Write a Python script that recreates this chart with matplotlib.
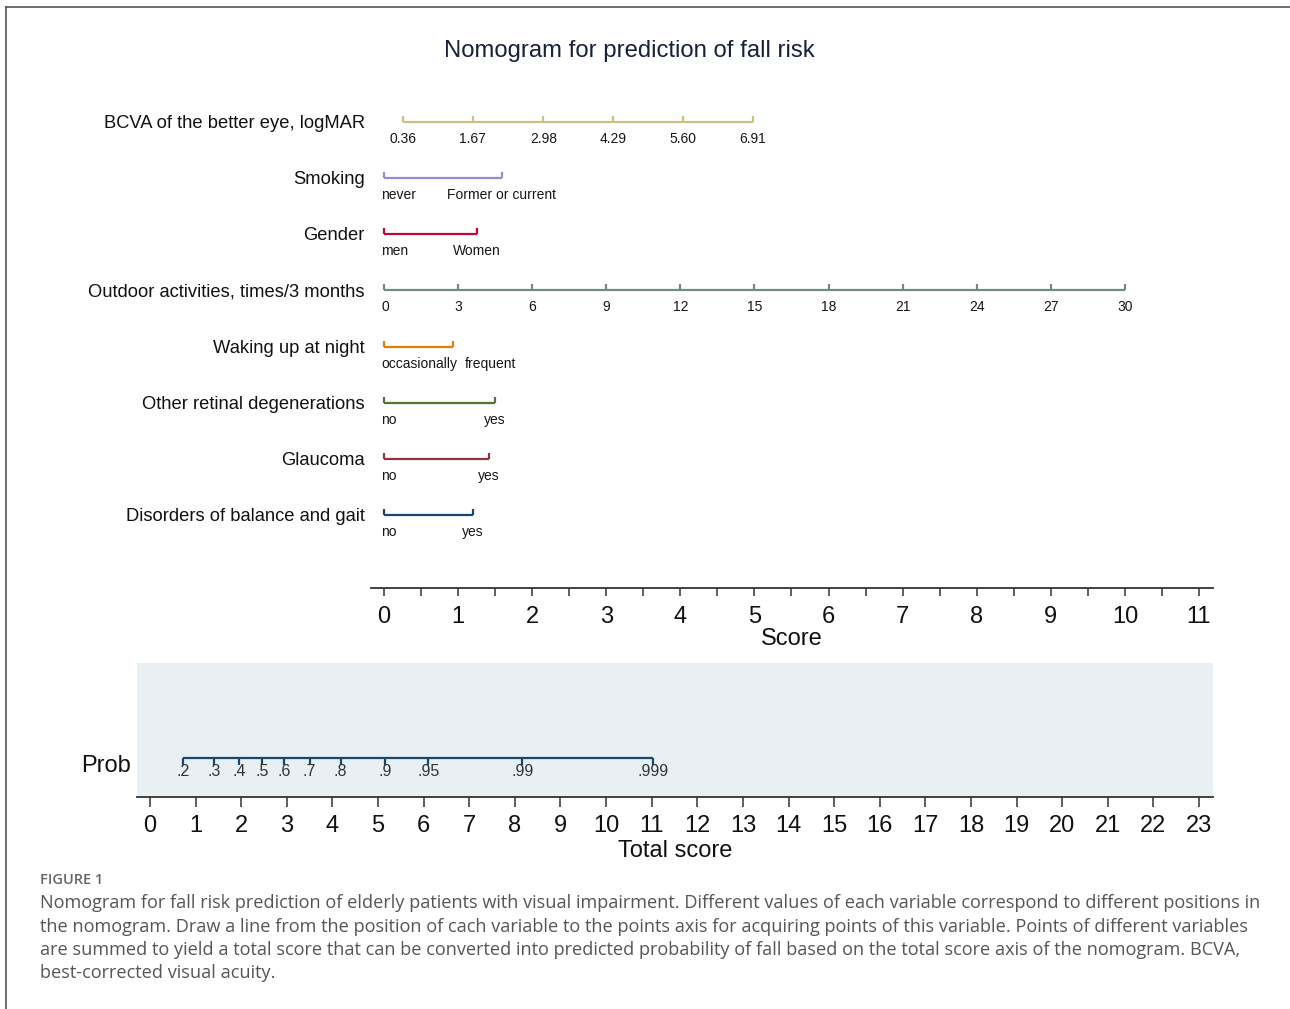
import matplotlib
matplotlib.use("Agg")
import matplotlib.pyplot as plt
from matplotlib.lines import Line2D
from matplotlib.ticker import FixedLocator, MultipleLocator

# ---------------------------------------------------------------- data
var_names = [
    "BCVA of the better eye, logMAR",
    "Smoking",
    "Gender",
    "Outdoor activities, times/3 months",
    "Waking up at night",
    "Other retinal degenerations",
    "Glaucoma",
    "Disorders of balance and gait",
]

bcva_labels = ["0.36", "1.67", "2.98", "4.29", "5.60", "6.91"]
bcva_points = [0.26, 1.20, 2.15, 3.09, 4.04, 4.98]

smoking_labels = ["never", "Former or current"]
smoking_points = [0.0, 1.59]

gender_labels = ["men", "Women"]
gender_points = [0.0, 1.25]

outdoor_labels = ["0", "3", "6", "9", "12", "15", "18", "21", "24", "27", "30"]
outdoor_points = [0, 1, 2, 3, 4, 5, 6, 7, 8, 9, 10]

waking_labels = ["occasionally", "frequent"]
waking_points = [0.0, 0.93]

retinal_labels = ["no", "yes"]
retinal_points = [0.0, 1.50]

glaucoma_labels = ["no", "yes"]
glaucoma_points = [0.0, 1.42]

balance_labels = ["no", "yes"]
balance_points = [0.0, 1.20]

var_colors = ["#cac27e", "#938dd2", "#c10534", "#6e8e84",
              "#e37e00", "#55752f", "#90353b", "#1a476f"]

score_ticks = list(range(0, 12))
total_ticks = list(range(0, 24))

prob_labels = [".2", ".3", ".4", ".5", ".6", ".7", ".8", ".9", ".95", ".99", ".999"]
prob_points = [0.72, 1.40, 1.95, 2.46, 2.94, 3.50, 4.18, 5.15, 6.10, 8.16, 11.03]

caption_head = "FIGURE 1"
caption_lines = [
    "Nomogram for fall risk prediction of elderly patients with visual impairment. Different values of each variable correspond to different positions in",
    "the nomogram. Draw a line from the position of cach variable to the points axis for acquiring points of this variable. Points of different variables",
    "are summed to yield a total score that can be converted into predicted probability of fall based on the total score axis of the nomogram. BCVA,",
    "best-corrected visual acuity.",
]

rows = [
    (bcva_labels, bcva_points),
    (smoking_labels, smoking_points),
    (gender_labels, gender_points),
    (outdoor_labels, outdoor_points),
    (waking_labels, waking_points),
    (retinal_labels, retinal_points),
    (glaucoma_labels, glaucoma_points),
    (balance_labels, balance_points),
]

# ---------------------------------------------------------------- layout
W, H, DPI = 1290, 1009, 100
PT = 72.0 / DPI  # points per pixel


def fx(px):
    return px / W


def fy(py):
    return 1.0 - py / H


plt.rcParams["font.family"] = ["Liberation Sans", "DejaVu Sans"]
fig = plt.figure(figsize=(W / DPI, H / DPI), dpi=DPI)
renderer = fig.canvas.get_renderer()

# frame around the figure panel
frame_kw = dict(color="#555555", lw=1.2, transform=fig.transFigure)
fig.add_artist(Line2D([fx(6), fx(6)], [fy(7), 0.0], **frame_kw))
fig.add_artist(Line2D([fx(6), 1.0], [fy(7), fy(7)], **frame_kw))

fig.text(fx(629.5), fy(51), "Nomogram for prediction of fall risk",
         ha="center", va="center", fontsize=17.2, color="#18203a")

# --------------------------------------------------------- variable rows
UNIT = 74.09          # pixels per score point
ROW = 56.14           # pixels between rows
ax = fig.add_axes([fx(371), fy(588), fx(1213) - fx(371), (588 - 100) / H])
ax.set_xlim((371 - 384) / UNIT, (1213 - 384) / UNIT)
ax.set_ylim((588 - 122) / ROW, (100 - 122) / ROW)
ax.set_facecolor("none")
for side in ("top", "left", "right"):
    ax.spines[side].set_visible(False)
ax.spines["bottom"].set_color("#333333")
ax.spines["bottom"].set_linewidth(1.3)
ax.xaxis.set_major_locator(FixedLocator(score_ticks))
ax.xaxis.set_minor_locator(MultipleLocator(0.5))
ax.tick_params(axis="x", which="both", direction="out", length=8 * PT,
               width=1.1, color="#333333", labelsize=17, pad=7,
               labelcolor="#111111")
ax.set_yticks([])
ax.set_xlabel("Score", fontsize=17, color="#111111", labelpad=0)

LW = 1.6
TICK_UP = 6 / ROW
LABEL_DROP = 17 * PT
NAME_GAP = 19 * PT
LEFT_CLAMP = -3 / UNIT
GAP = 8

left_px = ax.transData.transform((LEFT_CLAMP, 0))[0]
for i, ((labels, points), color, name) in enumerate(zip(rows, var_colors, var_names)):
    ax.plot([points[0], points[-1]], [i, i], color=color, lw=LW,
            solid_capstyle="butt")
    ax.vlines(points, i - TICK_UP, i, color=color, lw=LW)
    ax.annotate(name, xy=(0, i), xytext=(-NAME_GAP, -1.5 * PT),
                textcoords="offset points", ha="right", va="center",
                fontsize=13.25, color="#111111")
    prev_right = None
    for lab, p in zip(labels, points):
        t = ax.annotate(lab, xy=(p, i), xytext=(0, -LABEL_DROP),
                        textcoords="offset points", ha="center", va="center",
                        fontsize=10, color="#161616")
        bb = t.get_window_extent(renderer)
        shift = 0.0
        if bb.x0 < left_px:
            shift = left_px - bb.x0
        if prev_right is not None and bb.x0 + shift < prev_right + GAP:
            shift = prev_right + GAP - bb.x0
        if shift:
            t.xyann = (shift * PT, -LABEL_DROP)
        prev_right = bb.x1 + shift

# ---------------------------------------------------- probability panel
TUNIT = (1199 - 150) / 23.0
axb = fig.add_axes([fx(137), fy(797), fx(1213) - fx(137), (797 - 663) / H])
axb.set_xlim((137 - 150) / TUNIT, (1213 - 150) / TUNIT)
axb.set_ylim(0, 1)
axb.set_facecolor("#e8f0f3")
for side in ("top", "left", "right"):
    axb.spines[side].set_visible(False)
axb.spines["bottom"].set_color("#333333")
axb.spines["bottom"].set_linewidth(1.3)
axb.xaxis.set_major_locator(FixedLocator(total_ticks))
axb.tick_params(axis="x", direction="out", length=10 * PT, width=1.1,
                color="#333333", labelsize=17, pad=6, labelcolor="#111111")
axb.set_yticks([])
axb.set_xlabel("Total score", fontsize=17, color="#111111", labelpad=2)

PROB_Y = (797 - 758) / 134
PROB_TICK = 7 / 134
axb.plot([prob_points[0], prob_points[-1]], [PROB_Y, PROB_Y],
         color="#1a476f", lw=LW, solid_capstyle="butt")
axb.vlines(prob_points, PROB_Y - PROB_TICK, PROB_Y, color="#1a476f", lw=LW)
for lab, p in zip(prob_labels, prob_points):
    axb.annotate(lab, xy=(p, PROB_Y), xytext=(0, -13 * PT),
                 textcoords="offset points", ha="center", va="center",
                 fontsize=11.5, color="#333333")
axb.text(-6 / 1076, (797 - 766) / 134, "Prob", transform=axb.transAxes,
         ha="right", va="center", fontsize=17, color="#111111")

# ---------------------------------------------------------------- caption
cap_font = ["Open Sans", "DejaVu Sans"]
fig.text(fx(40), fy(880), caption_head, ha="left", va="center",
         fontsize=10.5, fontweight="semibold", color="#666666", family=cap_font)
for k, line in enumerate(caption_lines):
    fig.text(fx(40), fy(903 + 23.5 * k), line, ha="left", va="center",
             fontsize=13.1, color="#555555", family=cap_font)

fig.savefig("out.png", dpi=DPI)
